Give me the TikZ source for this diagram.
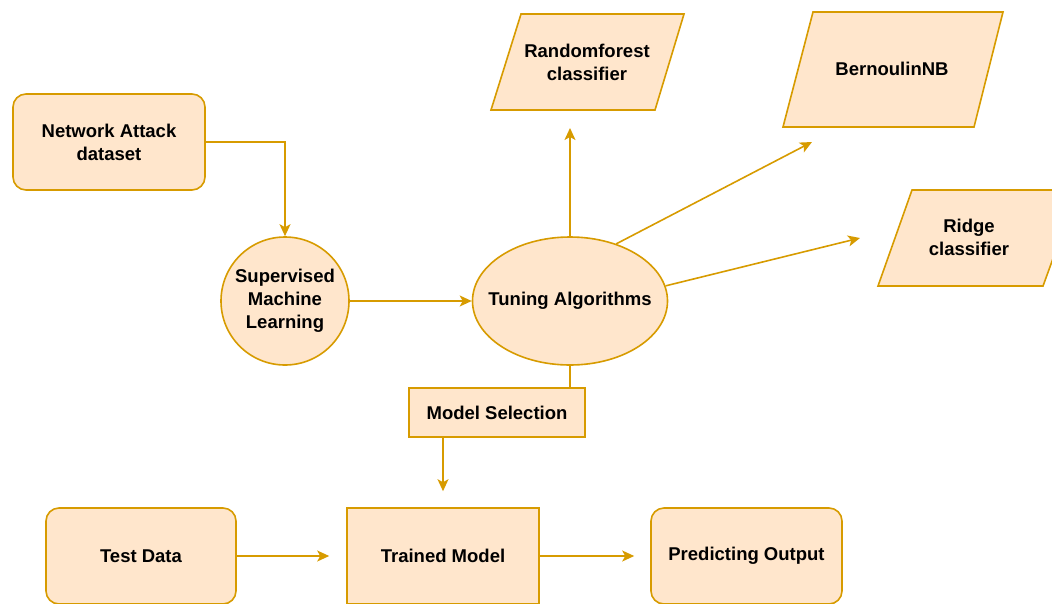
\documentclass[tikz,border=0pt]{standalone}
\usepackage{fontspec}
\setmainfont{Liberation Sans}
\usetikzlibrary{shapes.geometric,arrows.meta,calc}
\definecolor{boxfill}{HTML}{FFE6CC}
\definecolor{boxline}{HTML}{D79B00}
\begin{document}
\begin{tikzpicture}[x=1pt,y=-1pt,
  lbl/.style={font=\bfseries\fontsize{18.5}{23}\selectfont, align=center, inner sep=0pt, text=black},
  box/.style={lbl, draw=boxline, fill=boxfill, line width=1.6pt},
  rbox/.style={box, rounded corners=13pt},
  para/.style={draw=boxline, fill=boxfill, line width=1.6pt},
  conn/.style={draw=boxline, line width=1.6pt, -{Stealth[length=12pt,width=11pt,inset=3pt]}},
  plain/.style={draw=boxline, line width=1.6pt}]
\useasboundingbox (0,0) rectangle (1052,603);
\clip (0,0) rectangle (1052,603);
% nodes
\node[rbox, minimum width=192pt, minimum height=96pt] (net) at (109,142) {Network Attack\\dataset};
\node[box, circle, minimum size=128pt] (sup) at (285,301) {Supervised\\Machine\\Learning};
\node[box, ellipse, minimum width=195pt, minimum height=128pt] (tune) at (570,301) {};
\node[lbl] (tunetxt) at (tune.center) {Tuning Algorithms};
\node[box, minimum width=176pt, minimum height=49pt] (ms) at (497,412.5) {Model Selection};
\node[rbox, minimum width=190pt, minimum height=96pt] (td) at (141,556) {Test Data};
\node[box, minimum width=192pt, minimum height=96pt] (tm) at (443,556) {Trained Model};
\node[rbox, minimum width=191pt, minimum height=96pt] (po) at (746.5,556) {Predicting Output};
% parallelograms
\coordinate (rfTL) at (521,14); \coordinate (rfTR) at (684,14);
\coordinate (rfBR) at (655,110); \coordinate (rfBL) at (491,110);
\path[para] (rfTL) -- (rfTR) -- (rfBR) -- (rfBL) -- cycle;
\node[lbl] (rf) at (587,62) {Randomforest\\classifier};
\coordinate (bnTL) at (813,12); \coordinate (bnTR) at (1003,12);
\coordinate (bnBR) at (974,127); \coordinate (bnBL) at (783,127);
\path[para] (bnTL) -- (bnTR) -- (bnBR) -- (bnBL) -- cycle;
\node[lbl] (bn) at (892,69) {BernoulinNB};
\coordinate (rgTL) at (912,190); \coordinate (rgTR) at (1078,190);
\coordinate (rgBR) at (1043,286); \coordinate (rgBL) at (878,286);
\path[para] (rgTL) -- (rgTR) -- (rgBR) -- (rgBL) -- cycle;
\node[lbl] (rg) at (969,237.5) {Ridge\\classifier};
% arrow ends
\coordinate (rfin) at (570,128);
\coordinate (bnin) at (812,142);
\coordinate (rgin) at (860,238);
% connectors
\draw[conn] (net.east) -| (sup.north);
\draw[conn] (sup.east) -- (tune.west);
\draw[conn] (tune.north) -- (rfin);
\draw[conn] (tune.51) -- (bnin);
\draw[conn] (tune.9) -- (rgin);
\draw[plain] (tune.south) -- (tune.south |- ms.north);
\draw[conn, shorten >=16pt] (ms.south -| tm.north) -- (tm.north);
\draw[conn, shorten >=17pt] (td.east) -- (tm.west);
\draw[conn, shorten >=16pt] (tm.east) -- (po.west);
\end{tikzpicture}
\end{document}
